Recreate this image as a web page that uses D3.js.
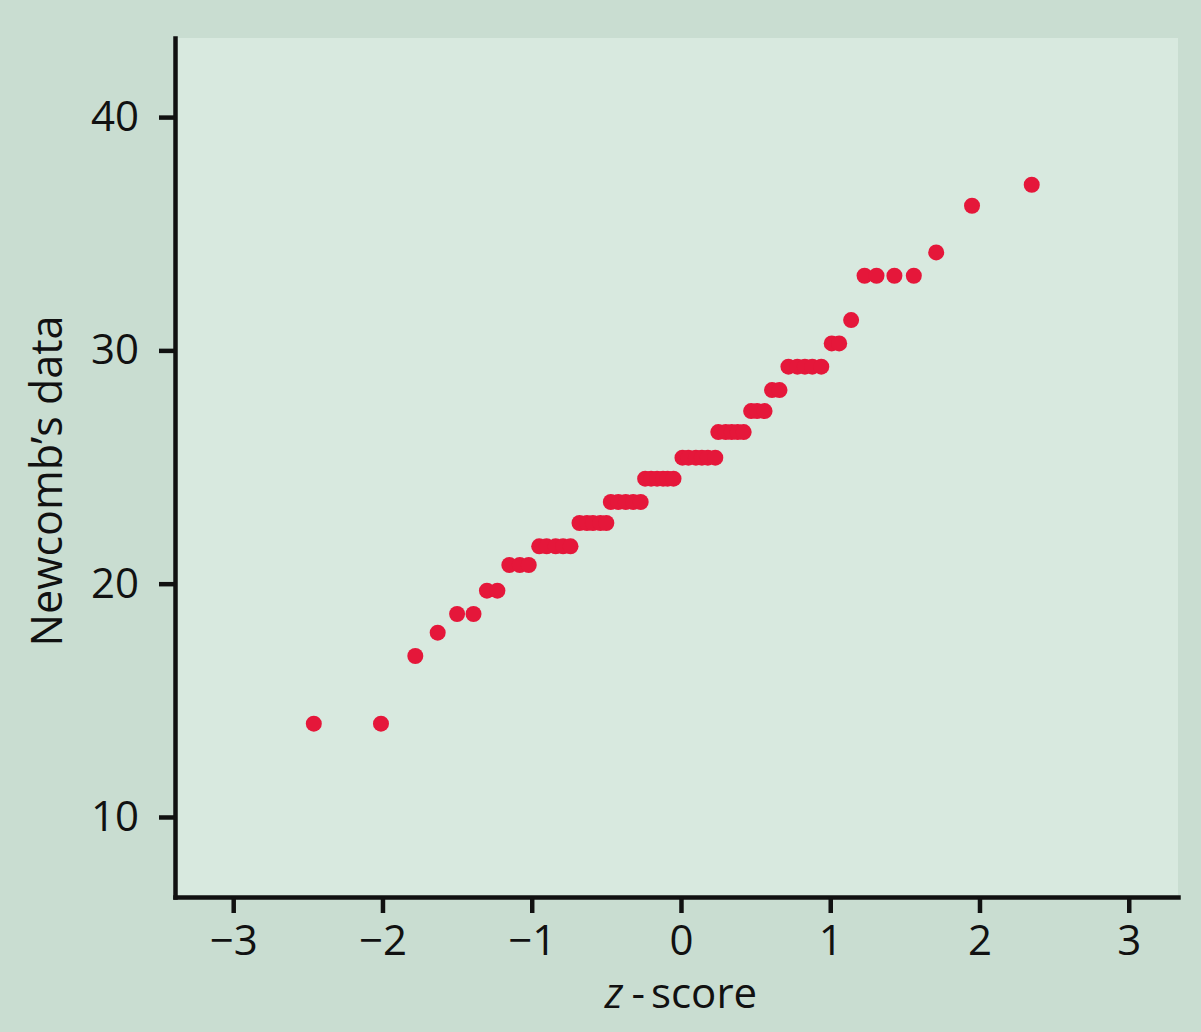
<!DOCTYPE html>
<html lang="en">
    <head>
        <meta charset="utf-8">
        <title>Newcomb's data vs z-score</title>
        <script type="text/javascript" src="https://d3js.org/d3.v7.min.js"></script>
        <style>
            body {
                margin: 0;
                background: #c9ddd1;
            }
            #chart text {
                font-family: "Open Sans", "Noto Sans", sans-serif;
                fill: #111;
            }
            .axis path, .axis line {
                stroke: #111;
                stroke-width: 4.5;
            }
            .axis text {
                font-size: 42px;
            }
            .dot {
                fill: #e5173a;
            }
        </style>
    </head>
    <body>
        <svg id="chart"></svg>
    </body>
    <script>
        // points (z-score, Newcomb's value), same order
        let zScores = [
            -2.46, -2.01,
            -1.78,
            -1.63,
            -1.50, -1.39,
            -1.30, -1.23,
            -1.15, -1.08, -1.02,
            -0.95, -0.90, -0.84, -0.79, -0.74,
            -0.68, -0.63, -0.59, -0.54, -0.50,
            -0.47, -0.42, -0.37, -0.32, -0.27,
            -0.24, -0.20, -0.16, -0.12, -0.09, -0.05,
            0.01, 0.05, 0.10, 0.14, 0.18, 0.23,
            0.25, 0.30, 0.34, 0.38, 0.42,
            0.47, 0.51, 0.56,
            0.61, 0.66,
            0.72, 0.78, 0.83, 0.88, 0.94,
            1.01, 1.06,
            1.14,
            1.23, 1.31, 1.43, 1.56,
            1.71,
            1.95,
            2.35
        ];
        let newcombValues = [
            14.0, 14.0,
            16.9,
            17.9,
            18.7, 18.7,
            19.7, 19.7,
            20.8, 20.8, 20.8,
            21.6, 21.6, 21.6, 21.6, 21.6,
            22.6, 22.6, 22.6, 22.6, 22.6,
            23.5, 23.5, 23.5, 23.5, 23.5,
            24.5, 24.5, 24.5, 24.5, 24.5, 24.5,
            25.4, 25.4, 25.4, 25.4, 25.4, 25.4,
            26.5, 26.5, 26.5, 26.5, 26.5,
            27.4, 27.4, 27.4,
            28.3, 28.3,
            29.3, 29.3, 29.3, 29.3, 29.3,
            30.3, 30.3,
            31.3,
            33.2, 33.2, 33.2, 33.2,
            34.2,
            36.2,
            37.1
        ];
        let xTicks = [-3, -2, -1, 0, 1, 2, 3];
        let yTicks = [10, 20, 30, 40];

        let width = 1201;
        let height = 1032;
        let margin = {left: 175, right: 23, top: 38, bottom: 135};

        let svg = d3.select("#chart")
                    .attr("width", width)
                    .attr("height", height);

        // lighter plot panel
        svg.append("rect")
            .attr("x", margin.left)
            .attr("y", margin.top)
            .attr("width", width - margin.left - margin.right)
            .attr("height", height - margin.top - margin.bottom)
            .attr("fill", "#d8e9df");

        let xScale = d3.scaleLinear()
                        .domain([-3.39, 3.33])
                        .range([margin.left, width - margin.right]);
        let yScale = d3.scaleLinear()
                        .domain([6.57, 43.39])
                        .range([height - margin.bottom, margin.top]);

        // axes
        svg.append("g")
            .attr("class", "axis")
            .attr("transform", "translate(0," + (height - margin.bottom) + ")")
            .call(d3.axisBottom(xScale)
                .tickValues(xTicks)
                .tickFormat(d3.format("d"))
                .tickSize(16)
                .tickSizeOuter(0)
                .tickPadding(12));

        svg.append("g")
            .attr("class", "axis")
            .attr("transform", "translate(" + margin.left + ",0)")
            .call(d3.axisLeft(yScale)
                .tickValues(yTicks)
                .tickFormat(d3.format("d"))
                .tickSize(16)
                .tickSizeOuter(0)
                .tickPadding(20));

        svg.selectAll(".axis .domain").attr("stroke-linecap", "square");

        // points
        let points = zScores.map((z, i) => ({z: z, value: newcombValues[i]}));
        svg.append("g")
            .selectAll("circle")
            .data(points)
            .join("circle")
            .attr("class", "dot")
            .attr("cx", d => xScale(d.z))
            .attr("cy", d => yScale(d.value))
            .attr("r", 8);

        // axis titles
        let xTitle = svg.append("text")
            .attr("x", xScale(0))
            .attr("y", 1008)
            .attr("text-anchor", "middle")
            .style("font-size", "42px");
        xTitle.append("tspan").style("font-style", "italic").text("z");
        xTitle.append("tspan").attr("dx", 8).text("-");
        xTitle.append("tspan").attr("dx", 6).text("score");

        svg.append("text")
            .attr("transform", "translate(62,481) rotate(-90)")
            .attr("text-anchor", "middle")
            .style("font-size", "43px")
            .text("Newcomb’s data");
    </script>
</html>
